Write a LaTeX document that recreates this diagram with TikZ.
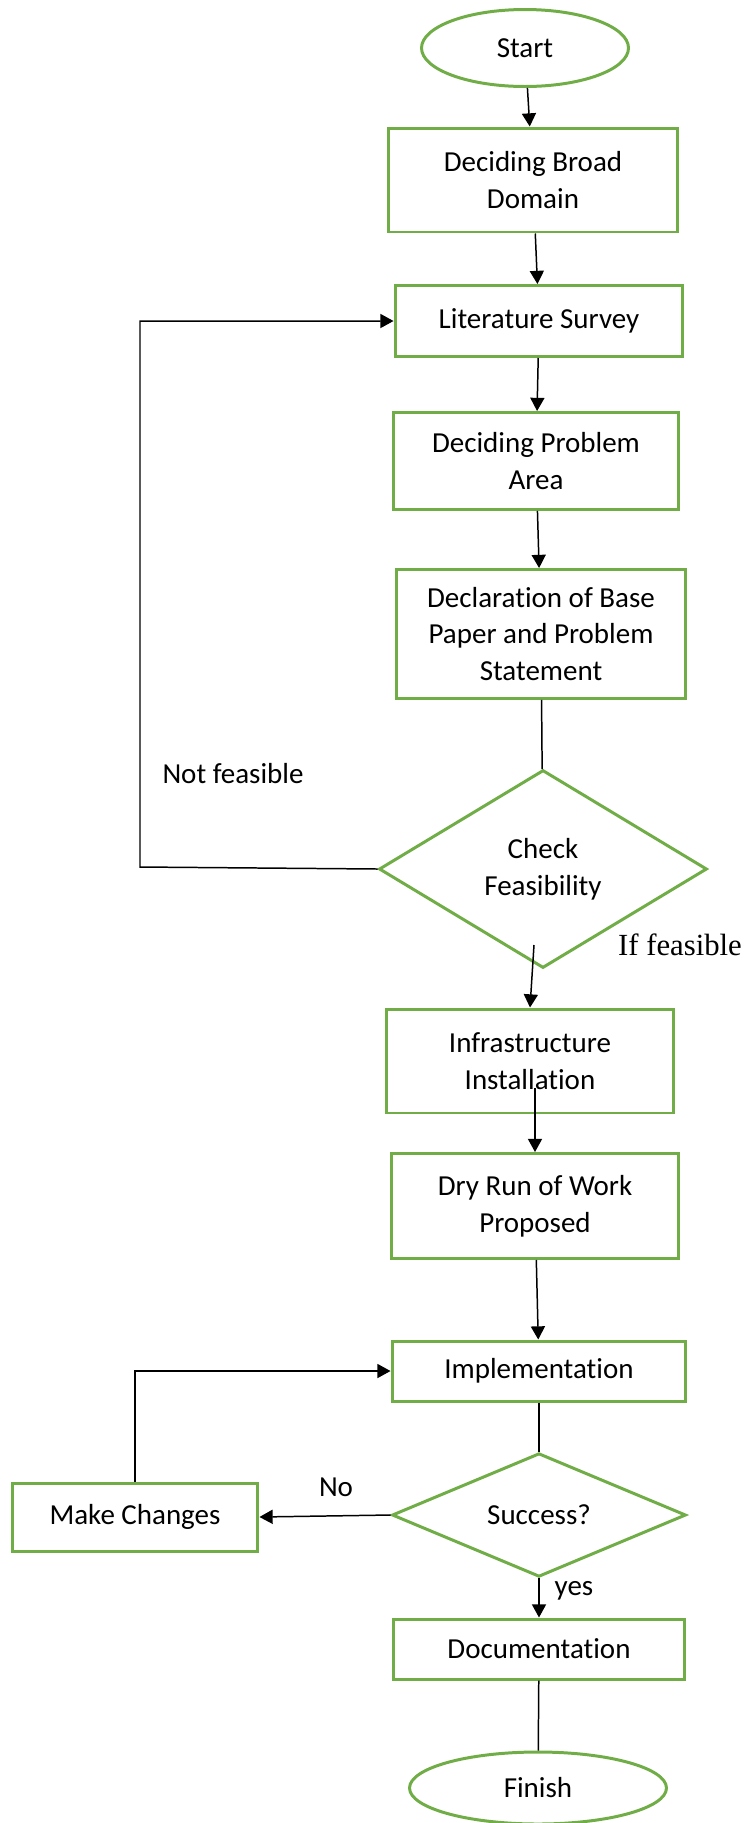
\documentclass[tikz,border=0pt]{standalone}
\usepackage{fontspec}
\setmainfont{Carlito}[Ligatures=NoCommon]
\newfontfamily\timesfont{Liberation Serif}
\usetikzlibrary{positioning,arrows.meta,shapes.geometric}
\definecolor{boxgreen}{RGB}{112,173,71}

\begin{document}
\begin{tikzpicture}[
  x=0.02cm, y=-0.02cm,
  >={Triangle[length=7.5pt,width=8pt]},
  font=\fontsize{16.5}{21}\selectfont,
  box/.style={draw=boxgreen, line width=1.7pt, align=center, inner sep=2pt},
  proc/.style={box, minimum width=5.76cm, minimum height=2.08cm},
  thin/.style={proc, minimum height=1.2cm},
  term/.style={box, ellipse, minimum width=4.14cm, minimum height=1.54cm},
  decide/.style={box, diamond, inner sep=0pt},
  lab/.style={inner sep=1pt},
  arr/.style={->, line width=0.85pt},
  ln/.style={line width=0.85pt},
]
\useasboundingbox (0,0) rectangle (748,1823);

% main column
\node[term] (start) at (525,48) {Start};
\node[proc, minimum width=5.78cm] (broad) at (533,180) {Deciding Broad\\ Domain};
\node[proc, minimum height=1.42cm] (lit) at (539,321) {Literature Survey};
\node[proc, minimum width=5.7cm, minimum height=1.94cm] (area) at (536,461) {Deciding Problem\\ Area};
\node[proc, minimum width=5.78cm, minimum height=2.58cm] (decl) at (541,634) {Declaration of Base\\ Paper and Problem\\ Statement};
\node[decide, minimum width=6.56cm, minimum height=3.96cm] (feas) at (543,869) {Check\\ Feasibility};
\node[proc] (infra) at (530,1061) {Infrastructure\\ Installation};
\node[proc, minimum width=5.74cm, minimum height=2.1cm] (dry) at (535,1206) {Dry Run of Work\\ Proposed};
\node[thin, minimum width=5.88cm] (impl) at (539,1371) {Implementation};
\node[decide, minimum width=5.88cm, minimum height=2.12cm] (succ) at (539,1515) {Success?};
\node[thin, minimum width=5.82cm] (doc) at (539,1649) {Documentation};
\node[term, minimum width=5.14cm, minimum height=1.44cm] (fin) at (538,1788) {Finish};

% side box
\node[proc, minimum width=4.92cm, minimum height=1.36cm] (chg) at (135,1517) {Make Changes};

% labels
\node[lab] (nf) at (233,774) {Not feasible};
\node[lab, anchor=west] (iff) at (616,945) {\timesfont\fontsize{17.5}{21}\selectfont If feasible};
\node[lab] (no) at (336,1487) {No};
\node[lab] (yes) at (574,1591) {yes};

\coordinate (nfcorner) at (140,867);
\coordinate (f0) at (534,945);
\coordinate (i0) at (535,1088);

\draw[arr] (start) -- (broad);
\draw[arr] (broad) -- (lit);
\draw[arr] (lit) -- (area);
\draw[arr] (area) -- (decl);
\draw[ln] (decl) -- (feas);
\draw[arr] (feas.west) -- (nfcorner) |- (lit.west);
\draw[arr] (f0) -- (infra.north);
\draw[arr] (i0) -- (dry.north);
\draw[arr] (dry) -- (impl);
\draw[ln] (impl) -- (succ);
\draw[arr] (succ.west) -- (chg.east);
\draw[arr] (chg.north) |- (impl.west);
\draw[arr] (succ) -- (doc);
\draw[ln] (doc) -- (fin);
\end{tikzpicture}
\end{document}
